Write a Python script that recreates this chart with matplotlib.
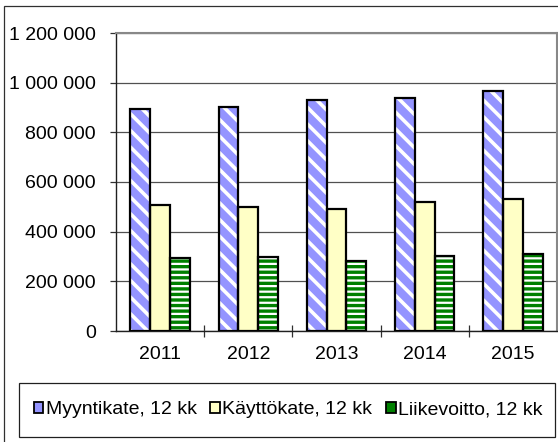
import matplotlib
matplotlib.use("Agg")
import matplotlib.pyplot as plt
from matplotlib.patches import Rectangle, Patch
from matplotlib.ticker import FuncFormatter, FixedLocator
import numpy as np

years = ["2011", "2012", "2013", "2014", "2015"]
series_names = ["Myyntikate, 12 kk", "Käyttökate, 12 kk", "Liikevoitto, 12 kk"]
myyntikate = [892000, 901000, 931000, 938000, 966000]
kayttokate = [506000, 500000, 490000, 518000, 532000]
liikevoitto = [292000, 299000, 280000, 304000, 312000]
y_ticks = [0, 200000, 400000, 600000, 800000, 1000000, 1200000]

plt.rcParams['font.family'] = ['Liberation Sans', 'DejaVu Sans']
plt.rcParams['hatch.linewidth'] = 2.6

W, H = 558, 442
fig = plt.figure(figsize=(W / 100, H / 100), dpi=100)

def fx(px):
    return px / W

def fy(py):
    return 1 - py / H

# outer chart frame (left and top visible)
fig.patches.append(Rectangle((fx(4), fy(470)), fx(600), (470 - 5.5) / H,
                             transform=fig.transFigure, fill=False,
                             edgecolor='#303030', linewidth=0.9))

ax = fig.add_axes([fx(116), fy(331), fx(557) - fx(116), fy(33) - fy(331)])

x = np.arange(len(years))
bw = 0.225
series = [myyntikate, kayttokate, liikevoitto]
faces = ['#9494FF', '#FFFFC6', '#008000']
hatches = ['\\\\', None, '---']
offsets = [-bw, 0, bw]

for vals, fc, h, off in zip(series, faces, hatches, offsets):
    if h:
        bars = ax.bar(x + off, vals, width=bw, color=fc, edgecolor='white',
                      hatch=h, linewidth=0, zorder=3)
        if h == '---':
            for b in bars:
                if hasattr(b, 'set_hatch_linewidth'):
                    b.set_hatch_linewidth(1.6)
    else:
        ax.bar(x + off, vals, width=bw, color=fc, linewidth=0, zorder=3)
    ax.bar(x + off, vals, width=bw, fill=False, edgecolor='black',
           linewidth=1.6, zorder=4)

ax.set_xlim(-0.5, len(years) - 0.5)
ax.set_ylim(0, 1200000)
ax.set_yticks(y_ticks)
ax.yaxis.set_major_formatter(FuncFormatter(lambda v, p: f"{int(v):,}".replace(",", " ")))
ax.yaxis.grid(True, color='#505050', linewidth=0.9, zorder=0)
ax.set_axisbelow(True)

ax.set_xticks(x)
ax.set_xticklabels(years)
ax.xaxis.set_minor_locator(FixedLocator(np.arange(0.5, len(years) - 0.5, 1)))
ax.tick_params(axis='x', which='major', length=0, pad=11, labelsize=14)
ax.tick_params(axis='x', which='minor', direction='inout', length=9, width=0.9, color='#303030')
ax.tick_params(axis='y', which='major', direction='out', length=4.5, width=0.9,
               color='#303030', pad=10, labelsize=14)

for s in ['left', 'bottom']:
    ax.spines[s].set_color('#202020')
    ax.spines[s].set_linewidth(1.0)
for s in ['top', 'right']:
    ax.spines[s].set_color('#888888')
    ax.spines[s].set_linewidth(1.5)

# legend frame
fig.patches.append(Rectangle((fx(19), fy(437)), fx(555) - fx(19), fy(383) - fy(437),
                             transform=fig.transFigure, fill=False,
                             edgecolor='#202020', linewidth=0.9))
handles = [Patch(facecolor=faces[0], edgecolor='black', linewidth=1.3),
           Patch(facecolor=faces[1], edgecolor='black', linewidth=1.3),
           Patch(facecolor=faces[2], edgecolor='black', linewidth=1.3)]
fig.legend(handles, series_names, loc='center', bbox_to_anchor=(fx(288), fy(410)),
           ncol=3, frameon=False, fontsize=14, handlelength=0.5, handleheight=0.5,
           handletextpad=0.12, columnspacing=0.7, borderpad=0)

fig.savefig("out.png", dpi=100)
